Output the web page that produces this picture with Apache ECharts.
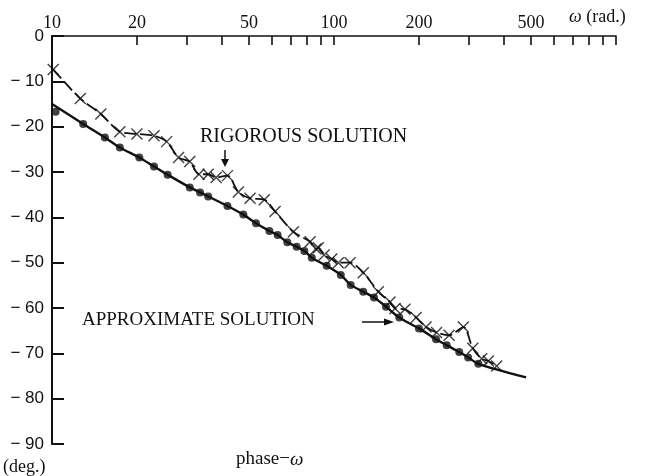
<!DOCTYPE html>
<html>
<head>
<meta charset="utf-8">
<script src="https://cdn.jsdelivr.net/npm/echarts@6/dist/echarts.min.js"></script>
<style>
  html, body { margin: 0; padding: 0; background: #fff; }
  #main { width: 649px; height: 476px; }
</style>
</head>
<body>
<div id="main"></div>
<script>
// omega (rad.) tick positions and labels on the top log axis
var omegaTicks = [10, 20, 30, 40, 50, 60, 70, 80, 90, 100, 200, 300, 400, 500, 600, 700, 800, 900, 1000];
var omegaLabels = [10, 20, 50, 100, 200, 500];

// approximate solution: dots
var approxOmega = [10.3, 12.9, 15.4, 17.4, 20.4, 23.0, 25.7, 30.8, 33.5, 35.8, 41.9, 47.7, 52.9, 59.0, 63.1, 68.3, 73.7, 78.5, 83.4, 94.2, 105.7, 114.6, 127, 138.6, 152.9, 170.4, 200, 230, 251, 278, 299, 325];
var approxPhase = [-16.7, -19.4, -22.4, -24.6, -26.8, -28.8, -30.6, -33.4, -34.5, -35.4, -37.5, -39.4, -41.3, -43.0, -43.9, -45.5, -46.5, -47.4, -48.9, -50.7, -52.7, -54.9, -56.4, -57.7, -59.7, -62.1, -64.5, -66.9, -68.2, -69.7, -70.9, -72.3];
// where the solid curve starts and ends (no dot there)
var approxStart = [10, -15];
var approxEnd = [480, -75.3];

// rigorous solution: x marks
var rigorOmega = [10.1, 12.6, 14.9, 17.4, 20.0, 23.0, 25.5, 28.1, 30.8, 33.2, 35.8, 38.2, 41.9, 45.8, 50.4, 56.6, 61.8, 71.8, 82.3, 86.3, 88.0, 92.2, 98.2, 103.6, 114, 127, 143.6, 158, 164.6, 178.5, 195.5, 212, 231, 256, 287.6, 310.6, 334, 352.6, 377.5];
var rigorPhase = [-7.4, -13.8, -17.2, -21.1, -21.6, -22.0, -23.3, -26.8, -27.7, -30.5, -30.5, -31.2, -30.8, -34.4, -35.8, -36.1, -38.7, -43.2, -45.4, -47.0, -46.7, -48.3, -49.2, -50.0, -50.0, -52.2, -56.4, -58.7, -60.1, -60.3, -62.1, -64.2, -65.4, -66.0, -64.2, -68.9, -71.2, -71.7, -72.8];

function pairs(xs, ys) {
    return xs.map(function (x, i) { return [x, ys[i]]; });
}

var approxDots = pairs(approxOmega, approxPhase);
var approxCurve = [approxStart].concat(approxDots.slice(1)).concat([approxEnd]);
var rigorMarks = pairs(rigorOmega, rigorPhase);

var serif = '"Liberation Serif", "DejaVu Serif", serif';
var sans = '"Liberation Sans", "DejaVu Sans", sans-serif';
var crossPath = 'path://M0,0L10,10M10,0L0,10';

var chart = echarts.init(document.getElementById('main'));
chart.setOption({
    animation: false,
    backgroundColor: '#fff',
    grid: { left: 52, right: 33, top: 36, bottom: 32 },
    xAxis: {
        type: 'log',
        logBase: 10,
        min: 10,
        max: 1000,
        position: 'top',
        axisLine: { lineStyle: { color: '#111', width: 1.6 } },
        axisTick: { inside: true, length: 9, customValues: omegaTicks, lineStyle: { color: '#111', width: 1.6 } },
        axisLabel: {
            customValues: omegaLabels,
            color: '#111', fontFamily: serif, fontSize: 18, margin: 4,
            formatter: function (v) { return String(Math.round(v)); }
        },
        splitLine: { show: false },
        minorTick: { show: false }
    },
    yAxis: {
        type: 'value',
        min: -90,
        max: 0,
        interval: 10,
        axisLine: { show: true, lineStyle: { color: '#111', width: 2 } },
        axisTick: { show: true, inside: true, length: 12, lineStyle: { color: '#111', width: 2 } },
        axisLabel: {
            color: '#111', fontFamily: sans, fontSize: 17, margin: 8,
            formatter: function (v) { return v === 0 ? '0' : '\u2212 ' + Math.abs(v); }
        },
        splitLine: { show: false }
    },
    series: [
        {
            name: 'approximate curve',
            type: 'line',
            data: approxCurve,
            smooth: 0.3,
            showSymbol: false,
            lineStyle: { color: '#111', width: 2.4 },
            z: 3
        },
        {
            name: 'approximate dots',
            type: 'scatter',
            data: approxDots,
            symbol: 'circle',
            symbolSize: 8,
            itemStyle: { color: '#111' },
            z: 4
        },
        {
            name: 'rigorous curve',
            type: 'line',
            data: rigorMarks,
            smooth: 0.3,
            showSymbol: false,
            lineStyle: { color: '#111', width: 1.8, type: [12, 4] },
            z: 3
        },
        {
            name: 'rigorous marks',
            type: 'scatter',
            data: rigorMarks,
            symbol: crossPath,
            symbolSize: 11,
            itemStyle: { color: 'transparent', borderColor: '#111', borderWidth: 1.4 },
            z: 4
        }
    ],
    graphic: [
        {
            type: 'text', left: 569, top: 8,
            style: {
                text: '{w|\u03c9} (rad.)', font: '18px ' + serif, fill: '#111',
                rich: { w: { fontStyle: 'italic', fontFamily: serif, fontSize: 18 } }
            }
        },
        { type: 'text', left: 3, top: 458, style: { text: '(deg.)', font: '18px ' + serif, fill: '#111' } },
        {
            type: 'text', left: 236, top: 450,
            style: {
                text: 'phase\u2212{w|\u03c9}', font: '19px ' + serif, fill: '#111',
                rich: { w: { fontStyle: 'italic', fontFamily: serif, fontSize: 19 } }
            }
        },
        { type: 'text', left: 200, top: 127, style: { text: 'RIGOROUS SOLUTION', font: '20px ' + serif, fill: '#111' } },
        { type: 'line', shape: { x1: 225, y1: 150, x2: 225, y2: 162 }, style: { stroke: '#111', lineWidth: 1.5 } },
        { type: 'polygon', shape: { points: [[221, 159], [229, 159], [225, 167]] }, style: { fill: '#111' } },
        { type: 'text', left: 82, top: 311, style: { text: 'APPROXIMATE SOLUTION', font: '19px ' + serif, fill: '#111' } },
        { type: 'line', shape: { x1: 362, y1: 322, x2: 388, y2: 322 }, style: { stroke: '#111', lineWidth: 1.5 } },
        { type: 'polygon', shape: { points: [[384, 318.5], [384, 325.5], [394, 322]] }, style: { fill: '#111' } }
    ]
});
</script>
</body>
</html>
